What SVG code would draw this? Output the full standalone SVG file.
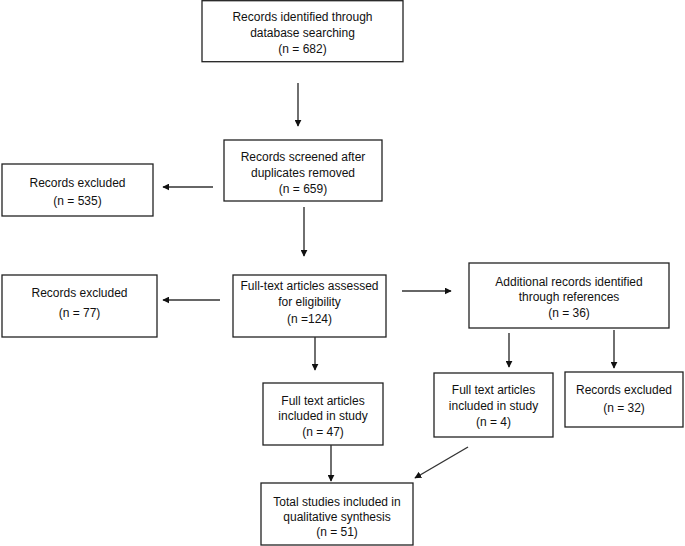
<svg xmlns="http://www.w3.org/2000/svg" width="685" height="546" viewBox="0 0 685 546">
<style>
.box{fill:#fff;stroke:#222;stroke-width:1.3}
text{font-family:"Liberation Sans",Arial,sans-serif;font-size:12px;fill:#111;text-anchor:middle}
.c{stroke:#333;stroke-width:1.4;fill:none;marker-end:url(#ah)}
</style>
<defs>
<marker id="ah" viewBox="0 0 10 10" refX="9" refY="5" markerWidth="7" markerHeight="7" markerUnits="userSpaceOnUse" orient="auto">
<path d="M0,0 L10,5 L0,10 z" fill="#111"/>
</marker>
</defs>
<rect width="685" height="546" fill="#fff"/>
<g id="n1"><rect class="box" x="202" y="0.7" width="201" height="61"/>
<text x="302.5" y="21">Records identified through</text><text x="302.5" y="37">database searching</text><text x="302.5" y="53">(n = 682)</text></g>
<g id="n2"><rect class="box" x="224" y="140" width="158" height="61"/>
<text x="303" y="161">Records screened after</text><text x="303" y="177">duplicates removed</text><text x="303" y="193">(n = 659)</text></g>
<g id="n3"><rect class="box" x="2" y="164" width="151" height="52"/>
<text x="77.5" y="187">Records excluded</text><text x="77.5" y="205">(n = 535)</text></g>
<g id="n4"><rect class="box" x="233" y="275" width="153" height="62"/>
<text x="309.5" y="290">Full-text articles assessed</text><text x="309.5" y="306">for eligibility</text><text x="309.5" y="323">(n =124)</text></g>
<g id="n5"><rect class="box" x="2" y="275" width="155" height="62"/>
<text x="79.5" y="297">Records excluded</text><text x="79.5" y="317">(n = 77)</text></g>
<g id="n6"><rect class="box" x="469" y="263" width="200" height="65"/>
<text x="569" y="286">Additional records identified</text><text x="569" y="301">through references</text><text x="569" y="317">(n = 36)</text></g>
<g id="n7"><rect class="box" x="263" y="383" width="120" height="62"/>
<text x="323" y="405">Full text articles</text><text x="323" y="420">included in study</text><text x="323" y="436">(n = 47)</text></g>
<g id="n8"><rect class="box" x="434" y="373" width="119" height="64"/>
<text x="493.5" y="394">Full text articles</text><text x="493.5" y="410">included in study</text><text x="493.5" y="426">(n = 4)</text></g>
<g id="n9"><rect class="box" x="565" y="372" width="118" height="55"/>
<text x="624" y="394">Records excluded</text><text x="624" y="412">(n = 32)</text></g>
<g id="n10"><rect class="box" x="261" y="483" width="152" height="62"/>
<text x="337" y="506">Total studies included in</text><text x="337" y="521">qualitative synthesis</text><text x="337" y="536">(n = 51)</text></g>
<g id="connectors">
<line class="c" x1="298" y1="83" x2="298" y2="126"/>
<line class="c" x1="213" y1="187" x2="163" y2="187"/>
<line class="c" x1="304" y1="207" x2="304" y2="256"/>
<line class="c" x1="220" y1="300" x2="163" y2="300"/>
<line class="c" x1="402" y1="291" x2="451" y2="291"/>
<line class="c" x1="315" y1="337" x2="315" y2="370"/>
<line class="c" x1="509" y1="333" x2="509" y2="367"/>
<line class="c" x1="614" y1="330" x2="614" y2="368"/>
<line class="c" x1="331" y1="445" x2="331" y2="481"/>
<line class="c" x1="468" y1="447" x2="415" y2="478"/>
</g>
</svg>
